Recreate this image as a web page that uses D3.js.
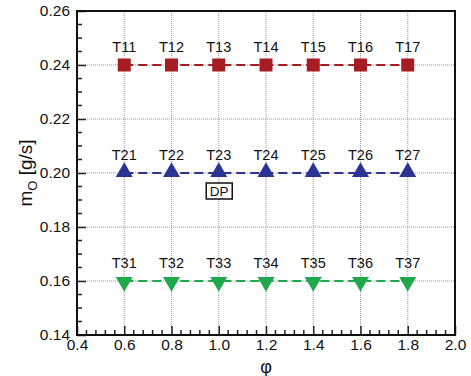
<!DOCTYPE html>
<html>
<head>
<meta charset="utf-8">
<script src="https://d3js.org/d3.v7.min.js"></script>
<style>
  body { margin: 0; background: #fff; }
  text { font-family: "Liberation Sans", Arial, sans-serif; }
</style>
</head>
<body>
<div class="chart"></div>
<script>
var svgWidth = 471;
var svgHeight = 376;

var margin = { top: 11, right: 16, bottom: 41, left: 77 };
var width = svgWidth - margin.left - margin.right;
var height = svgHeight - margin.top - margin.bottom;

// data
var phiValues = [0.6, 0.8, 1.0, 1.2, 1.4, 1.6, 1.8];
var seriesNames = ["T1", "T2", "T3"];
var seriesValues = [0.24, 0.20, 0.16];
var seriesLabels = [
  ["T11", "T12", "T13", "T14", "T15", "T16", "T17"],
  ["T21", "T22", "T23", "T24", "T25", "T26", "T27"],
  ["T31", "T32", "T33", "T34", "T35", "T36", "T37"]
];
var seriesColors = ["#a51d23", "#2b3393", "#1fa84c"];
var seriesSymbols = ["square", "up", "down"];
var xTicks = [0.4, 0.6, 0.8, 1.0, 1.2, 1.4, 1.6, 1.8, 2.0];
var yTicks = [0.14, 0.16, 0.18, 0.20, 0.22, 0.24, 0.26];
var designPoint = { phi: 1.0, label: "DP" };

var svg = d3.select(".chart")
  .append("svg")
  .attr("width", svgWidth)
  .attr("height", svgHeight);

var g = svg.append("g")
  .attr("transform", "translate(" + margin.left + "," + margin.top + ")");

var x = d3.scaleLinear().domain([0.4, 2.0]).range([0, width]);
var y = d3.scaleLinear().domain([0.14, 0.26]).range([height, 0]);

// grid lines (dotted)
g.append("g").selectAll("line")
  .data(xTicks.slice(1, -1))
  .enter().append("line")
  .attr("x1", function(d) { return x(d); })
  .attr("x2", function(d) { return x(d); })
  .attr("y1", 0).attr("y2", height)
  .attr("stroke", "#999").attr("stroke-width", 1)
  .attr("stroke-dasharray", "1,1");

g.append("g").selectAll("line")
  .data(yTicks.slice(1, -1))
  .enter().append("line")
  .attr("y1", function(d) { return y(d); })
  .attr("y2", function(d) { return y(d); })
  .attr("x1", 0).attr("x2", width)
  .attr("stroke", "#999").attr("stroke-width", 1)
  .attr("stroke-dasharray", "1,1");

// minor ticks
var xMinor = d3.range(0.44, 2.0, 0.04).filter(function(v) {
  return Math.abs(v * 5 - Math.round(v * 5)) > 1e-6;
});
var yMinor = d3.range(0.145, 0.26, 0.005).filter(function(v) {
  return Math.abs(v * 50 - Math.round(v * 50)) > 1e-6;
});

g.append("g").selectAll("line")
  .data(xMinor).enter().append("line")
  .attr("x1", function(d) { return x(d); })
  .attr("x2", function(d) { return x(d); })
  .attr("y1", height).attr("y2", height - 5)
  .attr("stroke", "#222").attr("stroke-width", 1.5);

g.append("g").selectAll("line")
  .data(yMinor).enter().append("line")
  .attr("y1", function(d) { return y(d); })
  .attr("y2", function(d) { return y(d); })
  .attr("x1", 0).attr("x2", 5)
  .attr("stroke", "#222").attr("stroke-width", 1.5);

// major ticks
var xAxis = d3.axisBottom(x).tickValues(xTicks).tickSize(-9).tickPadding(4)
  .tickFormat(d3.format(".1f"));
var yAxis = d3.axisLeft(y).tickValues(yTicks).tickSize(-9).tickPadding(7)
  .tickFormat(d3.format(".2f"));

var gx = g.append("g")
  .attr("transform", "translate(0," + height + ")")
  .call(xAxis);
var gy = g.append("g").call(yAxis);

[gx, gy].forEach(function(a) {
  a.select(".domain").remove();
  a.selectAll(".tick line").attr("stroke", "#222").attr("stroke-width", 1.5);
  a.selectAll(".tick text")
    .attr("font-size", 15.5)
    .attr("fill", "#111")
    .style("font-family", "'Liberation Sans', Arial, sans-serif");
});

// frame
g.append("rect")
  .attr("x", 0).attr("y", 0)
  .attr("width", width).attr("height", height)
  .attr("fill", "none")
  .attr("stroke", "#111")
  .attr("stroke-width", 2);

// series
var tri = d3.symbol().type(d3.symbolTriangle).size(125);

seriesValues.forEach(function(val, si) {
  var color = seriesColors[si];
  var sg = g.append("g");

  sg.append("line")
    .attr("x1", x(phiValues[0])).attr("x2", x(phiValues[phiValues.length - 1]))
    .attr("y1", y(val)).attr("y2", y(val))
    .attr("stroke", color).attr("stroke-width", 2)
    .attr("stroke-dasharray", "9,5");

  var pts = sg.selectAll(".pt")
    .data(phiValues).enter()
    .append("g")
    .attr("transform", function(d) {
      return "translate(" + x(d) + "," + y(val) + ")";
    });

  if (seriesSymbols[si] === "square") {
    pts.append("rect")
      .attr("x", -6.5).attr("y", -6.5)
      .attr("width", 13).attr("height", 13)
      .attr("fill", color);
  } else {
    pts.append("path")
      .attr("d", tri)
      .attr("transform", seriesSymbols[si] === "down" ? "rotate(180) translate(0,-1)" : "translate(0,-1)")
      .attr("fill", color);
  }

  pts.append("text")
    .text(function(d, i) { return seriesLabels[si][i]; })
    .attr("x", 0).attr("y", -13)
    .attr("text-anchor", "middle")
    .attr("font-size", 14.5)
    .attr("fill", "#111");
});

// DP box
var dpx = x(designPoint.phi);
var dpy = y(seriesValues[1]);
g.append("rect")
  .attr("x", dpx - 12.5).attr("y", dpy + 10)
  .attr("width", 26).attr("height", 16)
  .attr("fill", "#fff").attr("stroke", "#111").attr("stroke-width", 1.5);
g.append("text")
  .text(designPoint.label)
  .attr("x", dpx + 0.5).attr("y", dpy + 23)
  .attr("text-anchor", "middle")
  .attr("font-size", 13.5)
  .attr("fill", "#111");

// axis titles
svg.append("text")
  .attr("x", margin.left + x(1.2))
  .attr("y", 373)
  .attr("text-anchor", "middle")
  .attr("font-size", 18)
  .attr("fill", "#111")
  .text("φ");

var yl = svg.append("text")
  .attr("transform", "translate(32," + (margin.top + height / 2) + ") rotate(-90)")
  .attr("text-anchor", "middle")
  .attr("font-size", 19)
  .attr("fill", "#111");
yl.append("tspan").text("m");
yl.append("tspan").attr("font-size", 13).attr("dy", 5).text("O");
yl.append("tspan").attr("dy", -5).text("\u00a0[g/s]");
</script>
</body>
</html>
